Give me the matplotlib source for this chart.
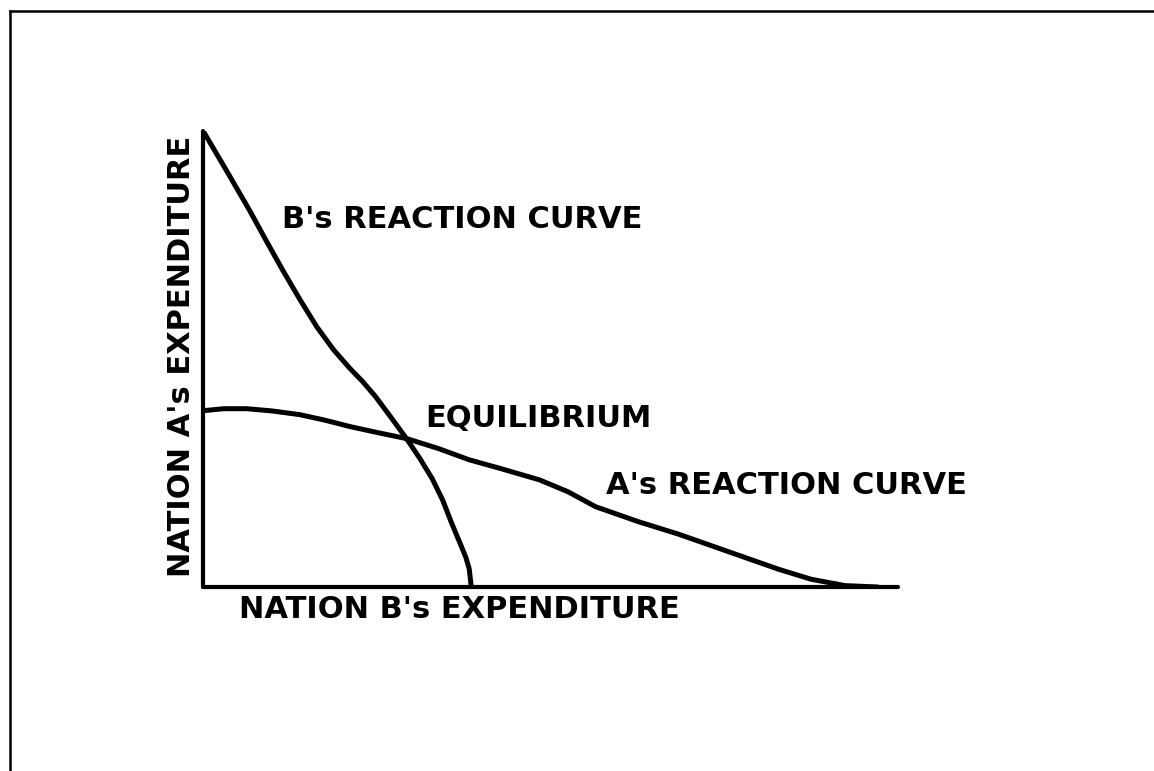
import matplotlib
matplotlib.use("Agg")
import matplotlib.pyplot as plt
from matplotlib.lines import Line2D

# reaction curves (x, y in 0..100 units of the axes)
b_curve_x = [0.1, 3.5, 6.7, 9.0, 11.5, 14.0, 16.4, 18.8, 21.1, 23.0, 24.8, 27.0, 29.3, 31.2,
             33.0, 34.5, 35.7, 36.9, 37.8, 38.3, 38.6]
b_curve_y = [99.8, 91.0, 82.6, 76.2, 69.4, 62.9, 57.0, 52.0, 48.0, 45.0, 41.8, 37.3, 32.5, 28.2,
             23.7, 19.0, 14.3, 9.9, 6.6, 4.0, 0.0]

a_curve_x = [0.3, 3.0, 6.3, 10.0, 13.9, 17.5, 21.1, 25.0, 29.4, 33.8, 38.3, 43.0, 48.4, 52.5,
             56.5, 62.7, 68.4, 75.5, 82.8, 87.5, 92.4, 97.1]
a_curve_y = [38.7, 39.1, 39.1, 38.6, 37.8, 36.6, 35.2, 33.9, 32.5, 30.4, 27.9, 25.9, 23.5, 20.9,
             17.6, 14.3, 11.6, 7.8, 3.9, 1.7, 0.3, 0.0]

x_label = "NATION B's EXPENDITURE"
y_label = "NATION A's EXPENDITURE"
b_label = "B's REACTION CURVE"
a_label = "A's REACTION CURVE"
eq_label = "EQUILIBRIUM"

W, H = 1154, 771
fig = plt.figure(figsize=(W / 100, H / 100), dpi=100)

# page frame (only left and top edges show)
fig.add_artist(Line2D([10 / W, 10 / W], [0, 1 - 11 / H], color="black", lw=1.8))
fig.add_artist(Line2D([10 / W, 1], [1 - 11 / H, 1 - 11 / H], color="black", lw=1.8))

ax = fig.add_axes([203 / W, 1 - 587 / H, (898 - 203) / W, (587 - 131) / H])
ax.set_xlim(0, 100)
ax.set_ylim(0, 100)
ax.patch.set_alpha(0)
for s in ["top", "right"]:
    ax.spines[s].set_visible(False)
for s in ["left", "bottom"]:
    ax.spines[s].set_linewidth(3)
    ax.spines[s].set_capstyle("round")
ax.set_xticks([])
ax.set_yticks([])

ax.plot(b_curve_x, b_curve_y, color="black", lw=3.6, solid_capstyle="round", solid_joinstyle="round")
ax.plot(a_curve_x, a_curve_y, color="black", lw=3.6, solid_capstyle="round", solid_joinstyle="round")

fs = 22
fig.text(282 / W, 1 - 220 / H, b_label, fontsize=fs, fontweight="bold", va="center", ha="left")
fig.text(425 / W, 1 - 419 / H, eq_label, fontsize=fs, fontweight="bold", va="center", ha="left")
fig.text(606 / W, 1 - 486 / H, a_label, fontsize=fs, fontweight="bold", va="center", ha="left")
fig.text(239 / W, 1 - 609 / H, x_label, fontsize=fs, fontweight="bold", va="center", ha="left")
fig.text(181 / W, 1 - 356 / H, y_label, fontsize=fs, fontweight="bold", va="center", ha="center",
         rotation=90)

fig.savefig("out.png", dpi=100, facecolor="white")
